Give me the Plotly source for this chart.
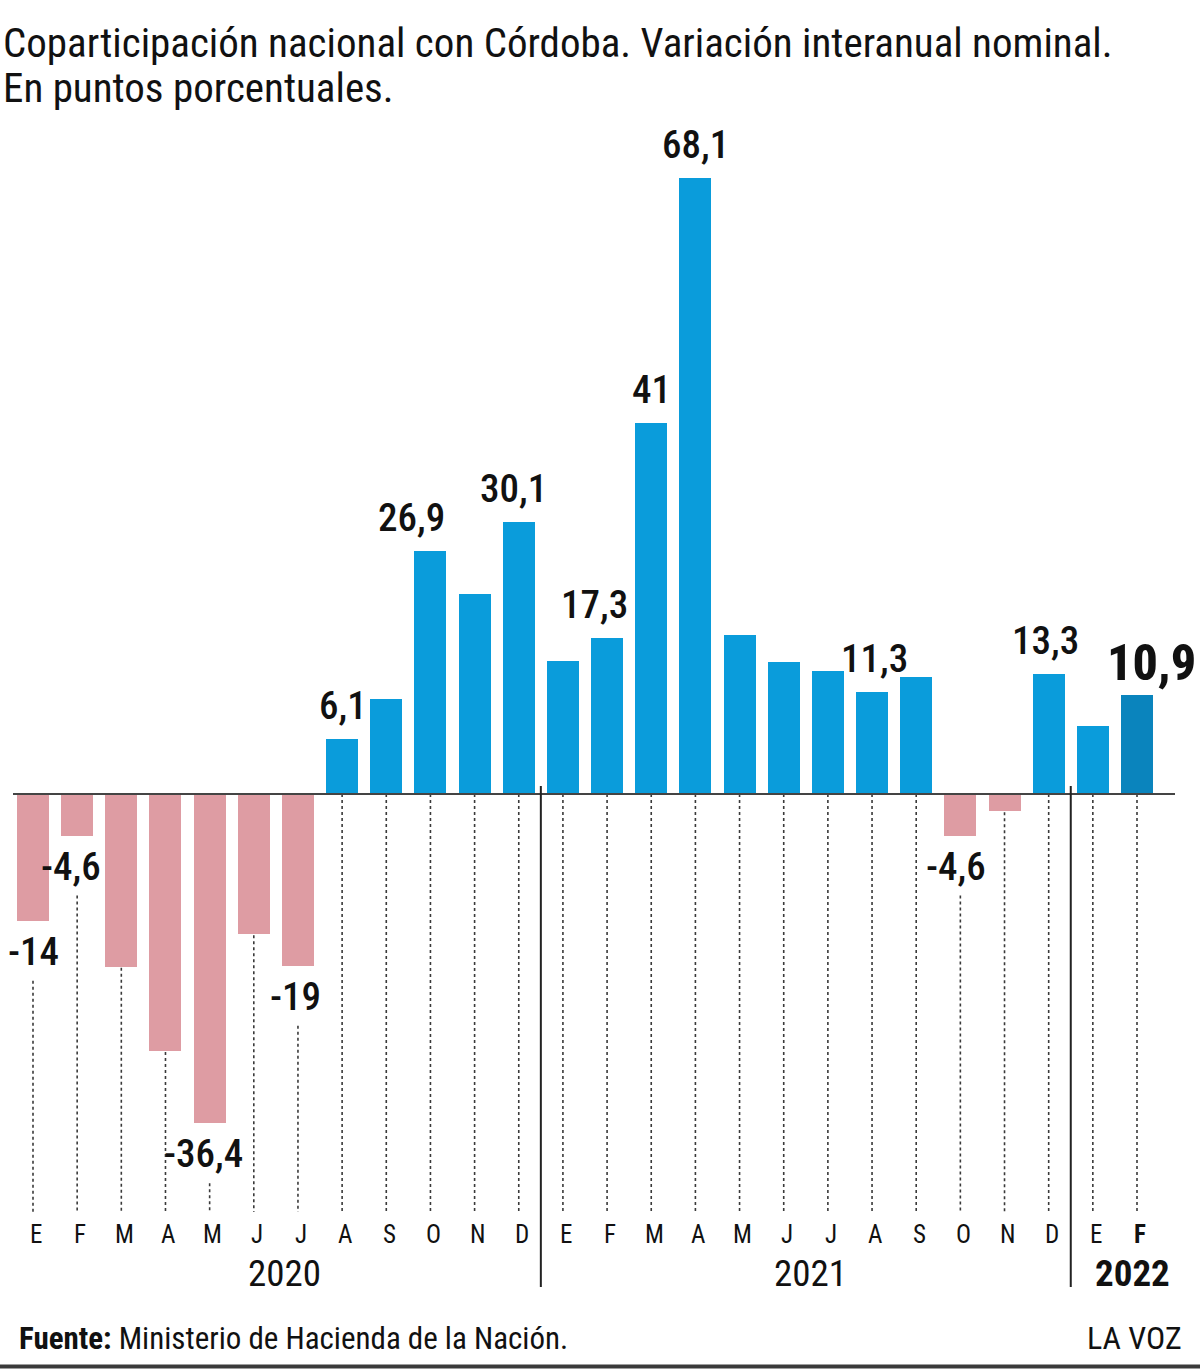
import plotly.graph_objects as go

# ---------------- data ----------------
months = ["E", "F", "M", "A", "M", "J", "J", "A", "S", "O", "N", "D",
          "E", "F", "M", "A", "M", "J", "J", "A", "S", "O", "N", "D",
          "E", "F"]
values = [-14, -4.6, -19.1, -28.4, -36.4, -15.5, -19, 6.1, 10.5, 26.9, 22.1, 30.1,
          14.7, 17.3, 41, 68.1, 17.6, 14.6, 13.6, 11.3, 12.9, -4.6, -1.9, 13.3,
          7.5, 10.9]
value_labels = ["-14", "-4,6", "", "", "-36,4", "", "-19", "6,1", "", "26,9", "", "30,1",
                "", "17,3", "41", "68,1", "", "", "", "11,3", "", "-4,6", "", "13,3",
                "", "10,9"]
years = ["2020", "2021", "2022"]
year_start = [0, 12, 24]
year_end = [11, 23, 25]

title_lines = ["Coparticipación nacional con Córdoba. Variación interanual nominal.",
               "En puntos porcentuales."]
source_text = "<b>Fuente:</b> Ministerio de Hacienda de la Nación."
brand_text = "LA VOZ"

# ---------------- layout constants (pixels) ----------------
W, H = 1200, 1369
ZERO_PX = 794
PPU = 9.046          # pixels per unit
X0_PX = 33
STEP = 44.16

FONT = "Liberation Sans Narrow, Roboto Condensed, Arial Narrow, Roboto, sans-serif"
PINK = "#DE9CA3"
BLUE = "#0A9CDB"
DARK_BLUE = "#0A84BD"
TXT = "#111111"


def px_y(py):
    return (ZERO_PX - py) / PPU


def px_x(px):
    return (px - X0_PX) / STEP


n = len(values)
xs = list(range(n))
colors = [PINK if v < 0 else BLUE for v in values]
colors[-1] = DARK_BLUE

fig = go.Figure()
fig.add_trace(go.Bar(x=xs, y=values, marker=dict(color=colors, line=dict(width=0)),
                     width=0.725, hoverinfo="x+y", showlegend=False))

shapes = []
annotations = []

# dashed guide lines
DASH_END_PX = 1212
for i, v in enumerate(values):
    if v >= 0:
        y0 = 0
    else:
        if value_labels[i]:
            y0 = px_y(ZERO_PX - v * PPU + 60)
        else:
            y0 = px_y(ZERO_PX - v * PPU + 1)
    shapes.append(dict(type="line", xref="x", yref="y", x0=i, x1=i,
                       y0=y0, y1=px_y(DASH_END_PX),
                       line=dict(color="#3a3a3a", width=1.6, dash="3px,3px"),
                       layer="below"))

# zero line
shapes.append(dict(type="line", xref="x", yref="y", x0=px_x(13), x1=px_x(1175), y0=0, y1=0,
                   line=dict(color="#444444", width=2)))

# year dividers
for s in year_start[1:]:
    shapes.append(dict(type="line", xref="x", yref="y", x0=s - 0.5, x1=s - 0.5,
                       y0=px_y(786), y1=px_y(1287),
                       line=dict(color="#222222", width=2)))

# bottom rule
shapes.append(dict(type="line", xref="paper", yref="y", x0=0, x1=1,
                   y0=px_y(1366.5), y1=px_y(1366.5),
                   line=dict(color="#3a3a3a", width=4)))

# value labels
label_xshift = {1: -6, 4: -6, 6: -2, 7: 1, 9: -19, 11: -5, 13: -13, 19: 2,
                21: -4, 23: -3, 25: 14}
for i, (v, t) in enumerate(zip(values, value_labels)):
    if not t:
        continue
    last = i == n - 1
    size = 50 if last else 39
    weight = 800 if last else 500
    if v >= 0:
        annotations.append(dict(x=i, y=v, xref="x", yref="y", text=t, showarrow=False,
                                xanchor="center", yanchor="bottom",
                                yshift=1 if last else 8, xshift=label_xshift.get(i, 0),
                                font=dict(family=FONT, size=size, color=TXT, weight=weight)))
    else:
        annotations.append(dict(x=i, y=v, xref="x", yref="y", text=t, showarrow=False,
                                xanchor="center", yanchor="top",
                                yshift=-6, xshift=label_xshift.get(i, 0),
                                font=dict(family=FONT, size=size, color=TXT, weight=weight)))

# month labels
for i, m in enumerate(months):
    last = i == n - 1
    annotations.append(dict(x=i, y=px_y(1234), xref="x", yref="y",
                            text=f"<b>{m}</b>" if last else m, showarrow=False,
                            xanchor="center", yanchor="middle", xshift=3,
                            font=dict(family=FONT, size=25, color=TXT)))

# year labels
year_xshift = [9, 5, 18]
for k, yname in enumerate(years):
    cx = (year_start[k] + year_end[k]) / 2
    last = k == len(years) - 1
    annotations.append(dict(x=cx, y=px_y(1273), xref="x", yref="y",
                            text=f"<b>{yname}</b>" if last else yname, showarrow=False,
                            xanchor="center", yanchor="middle", xshift=year_xshift[k],
                            font=dict(family=FONT, size=37, color=TXT)))

# title
for j, line in enumerate(title_lines):
    annotations.append(dict(x=px_x(1), y=px_y([43, 88][j]), xref="x", yref="y",
                            text=line, showarrow=False, xanchor="left", yanchor="middle",
                            font=dict(family=FONT, size=41, color=TXT)))

# footer
annotations.append(dict(x=px_x(17), y=px_y(1338), xref="x", yref="y", text=source_text,
                        showarrow=False, xanchor="left", yanchor="middle",
                        font=dict(family=FONT, size=31, color=TXT)))
annotations.append(dict(x=px_x(1184), y=px_y(1338), xref="x", yref="y", text=brand_text,
                        showarrow=False, xanchor="right", yanchor="middle",
                        font=dict(family=FONT, size=32, color=TXT)))

fig.update_layout(
    width=W, height=H, autosize=False,
    margin=dict(l=0, r=0, t=0, b=0, pad=0),
    paper_bgcolor="white", plot_bgcolor="white",
    bargap=0,
    xaxis=dict(range=[px_x(0), px_x(W)], visible=False, fixedrange=True),
    yaxis=dict(range=[px_y(H), px_y(0)], visible=False, fixedrange=True, zeroline=False),
    shapes=shapes, annotations=annotations,
    font=dict(family=FONT),
)

fig.write_html("out.html")
